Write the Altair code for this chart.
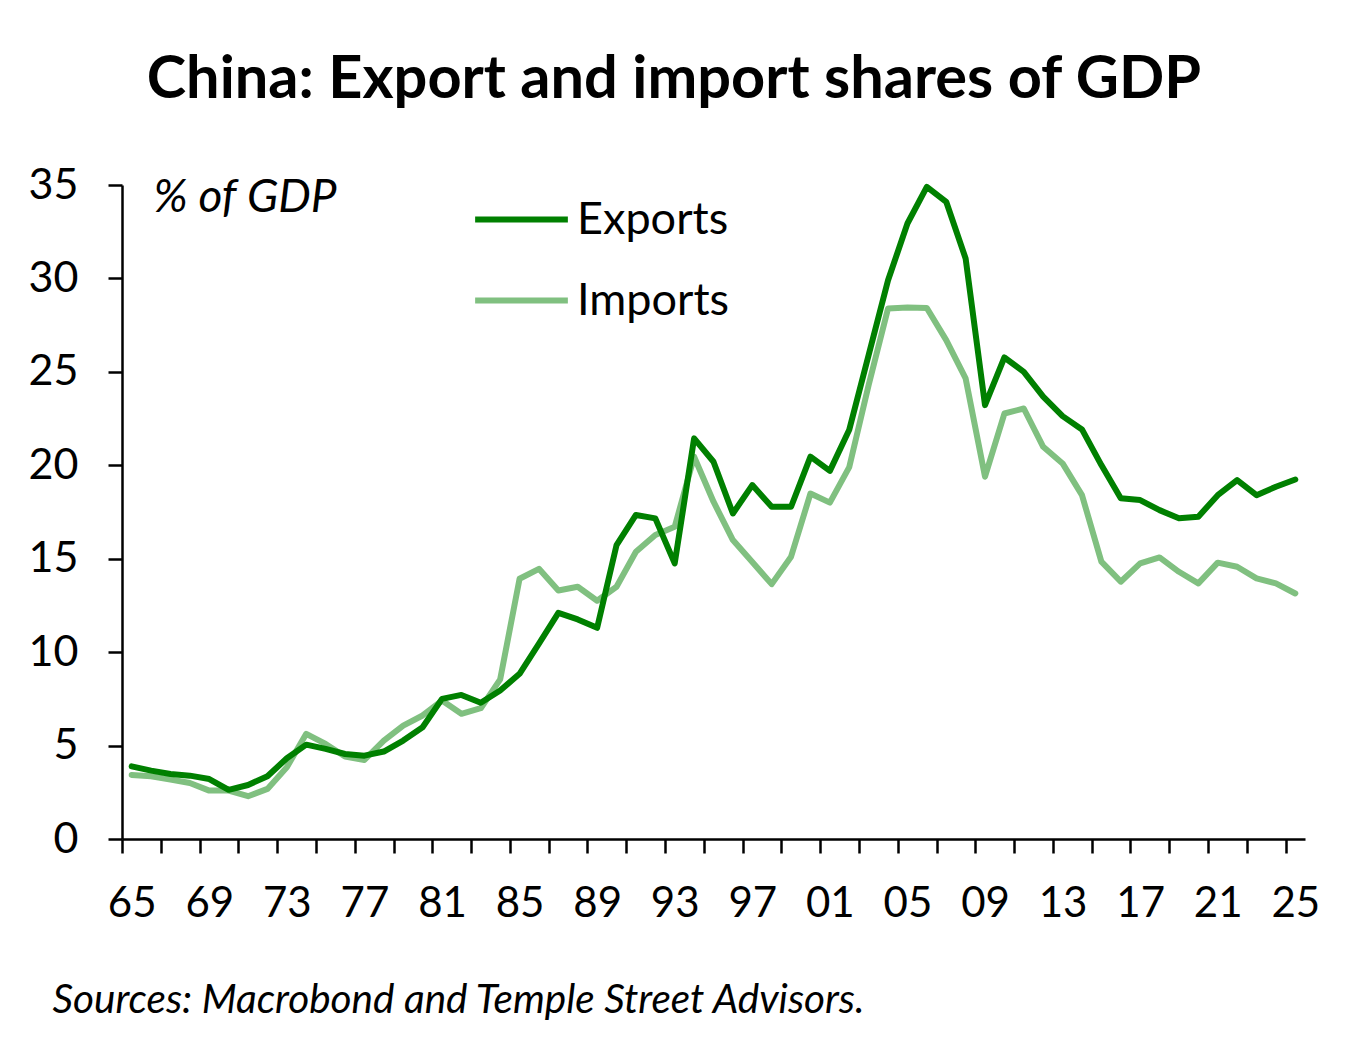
import altair as alt
import pandas as pd

years = list(range(1965, 2026))
exports = [3.89, 3.66, 3.48, 3.39, 3.21, 2.63, 2.89, 3.36, 4.32, 5.05,
           4.82, 4.55, 4.46, 4.68, 5.27, 5.98, 7.5, 7.71, 7.29, 7.95,
           8.84, 10.45, 12.1, 11.75, 11.3, 15.73, 17.34, 17.16, 14.75, 21.44,
           20.19, 17.42, 18.94, 17.78, 17.78, 20.46, 19.7, 21.9, 25.9, 29.9,
           32.94, 34.9, 34.1, 31.07, 23.22, 25.77, 25.0, 23.67, 22.63, 21.92,
           20.01, 18.23, 18.14, 17.6, 17.16, 17.25, 18.4, 19.21, 18.4, 18.85, 19.24]
imports = [3.43, 3.36, 3.18, 3.0, 2.59, 2.59, 2.29, 2.68, 3.84, 5.63,
           5.09, 4.41, 4.23, 5.27, 6.07, 6.61, 7.41, 6.7, 7.0, 8.54,
           13.93, 14.46, 13.3, 13.5, 12.75, 13.5, 15.37, 16.27, 16.71, 20.46,
           18.05, 16.0, 14.82, 13.64, 15.11, 18.49, 18.0, 19.9, 24.3, 28.39,
           28.45, 28.42, 26.7, 24.65, 19.39, 22.77, 23.04, 20.99, 20.1, 18.4,
           14.84, 13.77, 14.75, 15.07, 14.3, 13.68, 14.79, 14.57, 13.95, 13.68, 13.14]
series_names = ["Exports", "Imports"]
series_colors = ["#008000", "#80C080"]
y_ticks = [0, 5, 10, 15, 20, 25, 30, 35]
label_years = list(range(1965, 2026, 4))

title_text = "China: Export and import shares of GDP"
unit_text = "% of GDP"
source_text = "Sources: Macrobond and Temple Street Advisors."
FONT = "Lato"

df = pd.DataFrame({
    "year": years * 2,
    "value": exports + imports,
    "series": ["Exports"] * len(years) + ["Imports"] * len(years),
})

# category boundaries (ticks every 2 years), labels every 4 years
bounds = [y - 0.5 for y in range(years[0], years[-1] + 1, 2)]
lab = [f"{(b + 0.5) % 100:02.0f}" if int(b + 0.5) in label_years else "" for b in bounds]
label_expr = "[" + ",".join(f"'{s}'" for s in lab) + "][round((datum.value - %s) / 2)]" % bounds[0]

W, H = 1183, 654
half_cat = W / len(years) / 2

color = alt.Color(
    "series:N",
    scale=alt.Scale(domain=series_names, range=series_colors),
    legend=alt.Legend(
        title=None, orient="none", legendX=350, legendY=-15,
        symbolType="stroke", symbolSize=8600, symbolStrokeWidth=6,
        labelFont=FONT, labelFontSize=45, labelColor="black",
        labelOffset=6, rowPadding=8, labelLimit=400,
    ),
)

x = alt.X(
    "year:Q",
    scale=alt.Scale(domain=[years[0] - 0.5, years[-1] + 0.5], nice=False, zero=False),
    axis=alt.Axis(
        values=bounds, labelExpr=label_expr, labelOffset=half_cat,
        tickSize=14, tickWidth=2.5, tickColor="black",
        domainColor="black", domainWidth=2.5, grid=False,
        labelFont=FONT, labelFontSize=42, labelColor="black", labelPadding=30,
        labelOverlap=False, labelFlush=False,
        title=source_text, titleFont=FONT, titleFontSize=40.5, titleFontStyle="italic",
        titleFontWeight="normal", titleColor="black", titleAlign="left",
        titleAnchor="start", titleX=-70, titleY=161, titleBaseline="middle",
    ),
)
y = alt.Y(
    "value:Q",
    scale=alt.Scale(domain=[0, 35], nice=False),
    axis=alt.Axis(
        values=y_ticks, tickSize=14, tickWidth=2.5, tickColor="black",
        domainColor="black", domainWidth=2.5, grid=False,
        labelFont=FONT, labelFontSize=43, labelColor="black", labelPadding=30,
        title=unit_text, titleFont=FONT, titleFontSize=46, titleFontStyle="italic",
        titleFontWeight="normal", titleColor="black", titleAngle=0,
        titleAlign="left", titleBaseline="middle", titleX=31, titleY=12,
    ),
)

base = alt.Chart(df).encode(x=x, y=y, color=color)
imp_line = base.transform_filter(alt.datum.series == "Imports").mark_line(
    strokeWidth=6, strokeJoin="round", strokeCap="round")
exp_line = base.transform_filter(alt.datum.series == "Exports").mark_line(
    strokeWidth=6, strokeJoin="round", strokeCap="round")

chart = alt.layer(imp_line, exp_line).properties(
    width=W, height=H,
    title=alt.TitleParams(title_text, font=FONT, fontSize=59.5, fontWeight="bold",
                          color="black", anchor="middle", frame="bounds", offset=54),
    autosize=alt.AutoSizeParams(type="none"),
    padding={"left": 114, "top": 177, "right": 40, "bottom": 200},
).configure(background="white").configure_view(stroke=None)

chart.save("out.html", embed_options={"renderer": "svg", "actions": False})
